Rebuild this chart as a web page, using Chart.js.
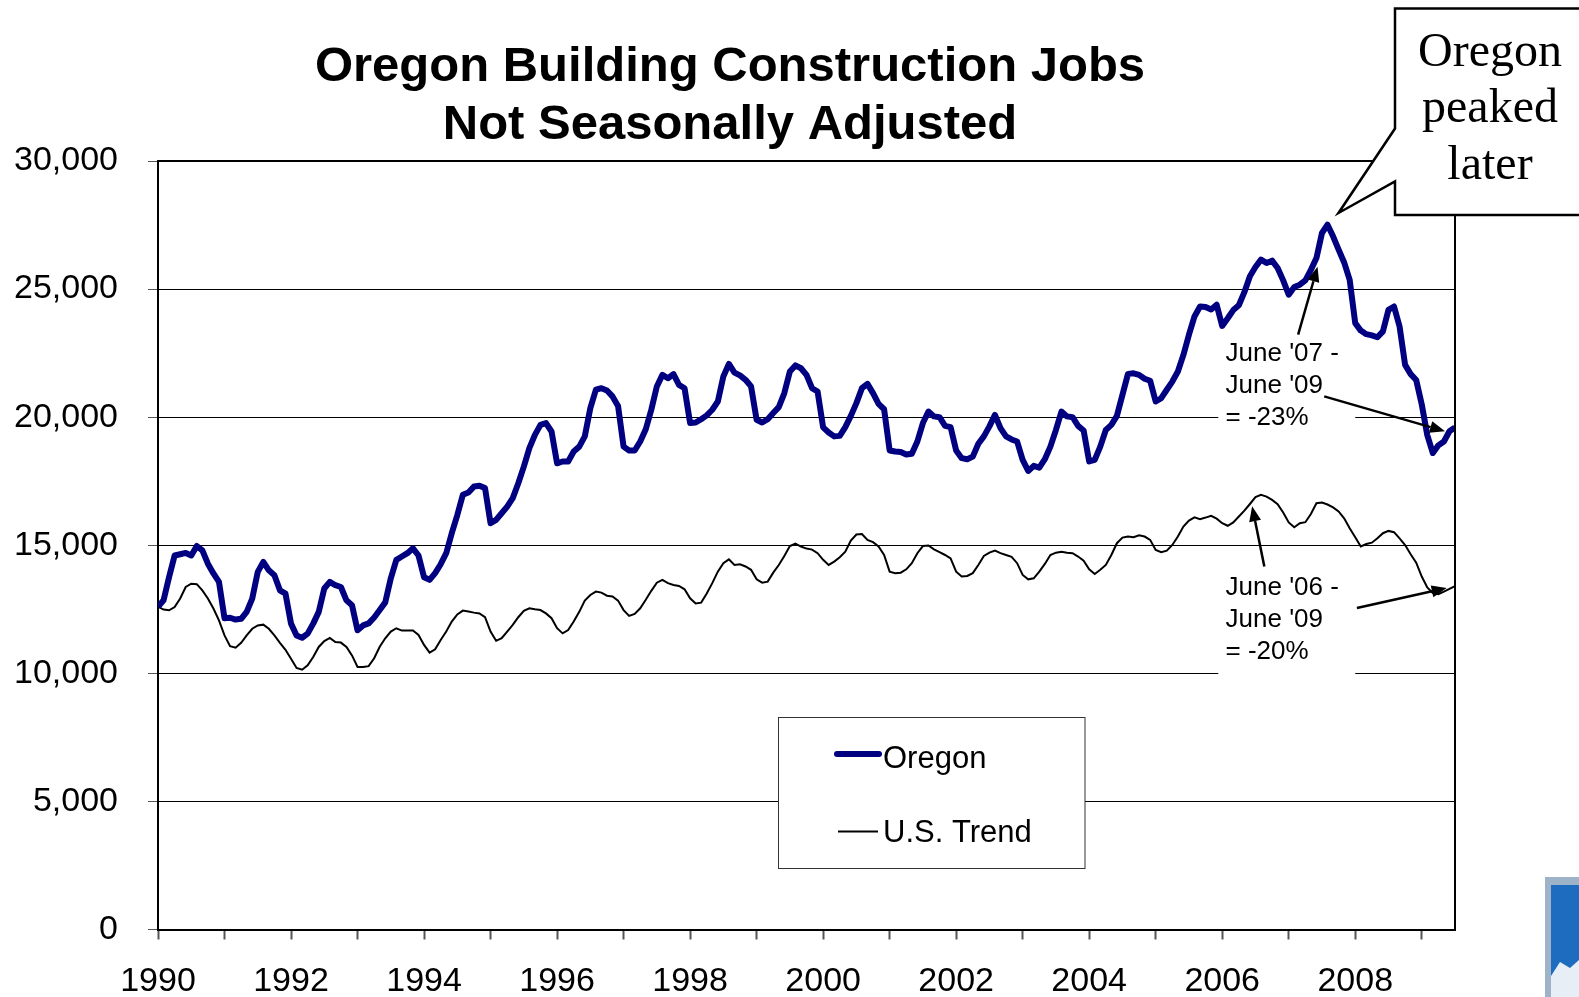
<!DOCTYPE html>
<html>
<head>
<meta charset="utf-8">
<title>Oregon Building Construction Jobs</title>
<script src="https://cdn.jsdelivr.net/npm/chart.js@4.4.1/dist/chart.umd.min.js"></script>
<style>
  html, body { margin: 0; padding: 0; background: #fff; }
  #wrap { position: relative; width: 1579px; height: 997px; }
</style>
</head>
<body>
<div id="wrap"><canvas id="grafico" width="1579" height="997"></canvas></div>
<script>
// monthly jobs, Jan 1990 .. Jul 2009 (one row per year)
var startYear = 1990;

var oregon = [
    12600, 12850, 13760, 14600, 14650, 14700, 14600, 14970, 14800, 14280, 13900, 13570,
    12150, 12170, 12100, 12130, 12400, 12920, 13960, 14350, 14020, 13830, 13240, 13110,
    11940, 11480, 11390, 11550, 11940, 12400, 13310, 13570, 13440, 13370, 12850, 12660,
    11680, 11870, 11950, 12180, 12470, 12770, 13710, 14430, 14560, 14690, 14880, 14600,
    13750, 13650, 13910, 14260, 14690, 15470, 16180, 16970, 17060, 17290, 17320, 17230,
    15860, 15990, 16250, 16510, 16840, 17420, 18070, 18790, 19310, 19700, 19770, 19440,
    18200, 18270, 18270, 18660, 18850, 19250, 20350, 21070, 21130, 21040, 20810, 20440,
    18850, 18700, 18700, 19050, 19530, 20290, 21200, 21650, 21520, 21680, 21260, 21130,
    19770, 19790, 19920, 20070, 20290, 20610, 21590, 22080, 21740, 21630, 21460, 21200,
    19900, 19790, 19920, 20160, 20390, 20940, 21780, 22020, 21910, 21650, 21130, 21000,
    19600, 19400, 19250, 19270, 19610, 20050, 20550, 21130, 21300, 20940, 20520, 20310,
    18700, 18660, 18640, 18540, 18570, 19050, 19770, 20220, 20030, 20000, 19660, 19610,
    18700, 18400, 18360, 18460, 18960, 19250, 19640, 20090, 19570, 19250, 19130, 19050,
    18330, 17900, 18100, 18030, 18360, 18850, 19500, 20220, 20030, 20000, 19660, 19480,
    18270, 18330, 18850, 19500, 19700, 20050, 20870, 21690, 21710, 21650, 21500, 21420,
    20610, 20740, 21070, 21390, 21780, 22430, 23220, 23930, 24320, 24300, 24200, 24390,
    23560, 23860, 24180, 24370, 24880, 25500, 25860, 26150, 26020, 26110, 25820, 25340,
    24780, 25080, 25170, 25340, 25750, 26210, 27190, 27510, 27060, 26540, 26040, 25360,
    23670, 23380, 23240, 23190, 23120, 23350, 24190, 24320, 23540, 22040, 21680, 21450,
    20500, 19300, 18600, 18900, 19050, 19450, 19600
];

var usTrend = [
    12600, 12490, 12460, 12590, 12920, 13370, 13500, 13480, 13240, 12920, 12530, 12070,
    11480, 11060, 11000, 11190, 11480, 11740, 11870, 11900, 11740, 11480, 11190, 10920,
    10570, 10210, 10140, 10310, 10640, 11030, 11260, 11380, 11220, 11200, 11030, 10700,
    10250, 10250, 10280, 10590, 11040, 11370, 11630, 11760, 11670, 11670, 11670, 11500,
    11110, 10810, 10940, 11300, 11630, 12020, 12300, 12450, 12410, 12370, 12340, 12190,
    11630, 11270, 11370, 11630, 11890, 12190, 12440, 12540, 12500, 12470, 12340, 12150,
    11760, 11560, 11690, 12020, 12400, 12840, 13060, 13190, 13150, 13030, 13000, 12840,
    12470, 12240, 12320, 12540, 12870, 13220, 13540, 13650, 13520, 13450, 13410, 13280,
    12930, 12730, 12760, 13120, 13520, 13970, 14300, 14450, 14230, 14260, 14170, 14040,
    13670, 13540, 13580, 13930, 14230, 14580, 14970, 15060, 14950, 14870, 14830, 14690,
    14430, 14230, 14360, 14530, 14750, 15180, 15420, 15440, 15210, 15120, 14950, 14620,
    13970, 13910, 13930, 14060, 14300, 14690, 14970, 14990, 14840, 14730, 14620, 14490,
    13970, 13780, 13800, 13910, 14230, 14580, 14710, 14790, 14690, 14620, 14550, 14300,
    13840, 13670, 13710, 13970, 14270, 14620, 14710, 14750, 14710, 14690, 14560, 14400,
    14060, 13880, 14040, 14230, 14620, 15080, 15300, 15340, 15310, 15390, 15340, 15210,
    14820, 14730, 14790, 15010, 15340, 15730, 15960, 16090, 16020, 16080, 16150, 16040,
    15860, 15760, 15890, 16120, 16350, 16610, 16880, 16970, 16900, 16770, 16600, 16280,
    15890, 15700, 15860, 15900, 16220, 16640, 16670, 16590, 16480, 16320, 16050, 15660,
    15310, 14950, 15050, 15100, 15270, 15470, 15560, 15510, 15270, 15010, 14650, 14320,
    13780, 13350, 13130, 13090, 13190, 13300, 13400
];

var yearLabels = [1990, 1992, 1994, 1996, 1998, 2000, 2002, 2004, 2006, 2008];
var seriesNames = ['Oregon', 'U.S. Trend'];
var titleLines = ['Oregon Building Construction Jobs', 'Not Seasonally Adjusted'];
var calloutLines = ['Oregon', 'peaked', 'later'];
var note07 = ["June '07 -", "June '09", "= -23%"];
var note06 = ["June '06 -", "June '09", "= -20%"];

var fonteSans = "'Liberation Sans', Arial, Helvetica, sans-serif";
var fonteSerif = "'Liberation Serif', 'Times New Roman', serif";

function pontos(valores) {
    return valores.map(function (v, i) { return {x: i, y: v}; });
}

function seta(c, x1, y1, x2, y2) {
    var ang = Math.atan2(y2 - y1, x2 - x1), comp = 15, larg = 6;
    var bx = x2 - comp * Math.cos(ang), by = y2 - comp * Math.sin(ang);
    c.beginPath();
    c.moveTo(x1, y1);
    c.lineTo(bx, by);
    c.stroke();
    c.beginPath();
    c.moveTo(x2, y2);
    c.lineTo(bx + larg * Math.sin(ang), by - larg * Math.cos(ang));
    c.lineTo(bx - larg * Math.sin(ang), by + larg * Math.cos(ang));
    c.closePath();
    c.fill();
}

// notes placed in data units (month index, jobs)
var notas = [
    {linhas: note07, caixa: [191.3, 216, 23220, 19430], texto: [192.6, 22480],
     setas: [[205.7, 23220, 209.2, 25870], [210.4, 20810, 232.2, 19450]]},
    {linhas: note06, caixa: [191.3, 216, 14240, 9820], texto: [192.6, 13340],
     setas: [[199.6, 14170, 197.4, 16520], [216.3, 12550, 232.5, 13330]]}
];

var extras = {
    id: 'extras',
    beforeDatasetsDraw: function (chart) {
        var c = chart.ctx, sx = chart.scales.x, sy = chart.scales.y;
        c.save();
        notas.forEach(function (n) {
            var x0 = sx.getPixelForValue(n.caixa[0]), x1 = sx.getPixelForValue(n.caixa[1]);
            var y0 = sy.getPixelForValue(n.caixa[2]), y1 = sy.getPixelForValue(n.caixa[3]);
            c.fillStyle = '#fff';
            c.fillRect(x0, y0, x1 - x0, y1 - y0);
            c.fillStyle = '#000';
            c.font = '26px ' + fonteSans;
            c.textAlign = 'left';
            c.textBaseline = 'middle';
            var tx = sx.getPixelForValue(n.texto[0]), ty = sy.getPixelForValue(n.texto[1]);
            n.linhas.forEach(function (t, k) { c.fillText(t, tx, ty + k * 32); });
        });
        c.restore();
    },
    afterDatasetsDraw: function (chart) {
        var c = chart.ctx, sx = chart.scales.x, sy = chart.scales.y;
        c.save();
        c.strokeStyle = '#000';
        c.fillStyle = '#000';
        c.lineWidth = 2.5;
        notas.forEach(function (n) {
            n.setas.forEach(function (s) {
                seta(c, sx.getPixelForValue(s[0]), sy.getPixelForValue(s[1]),
                        sx.getPixelForValue(s[2]), sy.getPixelForValue(s[3]));
            });
        });
        c.restore();
    },
    afterDraw: function (chart) {
        var c = chart.ctx, a = chart.chartArea;
        c.save();

        // frame top / right
        c.strokeStyle = '#000';
        c.lineWidth = 2;
        c.beginPath();
        c.moveTo(a.left, a.top);
        c.lineTo(a.right, a.top);
        c.lineTo(a.right, a.bottom);
        c.stroke();

        // title
        c.fillStyle = '#000';
        c.textAlign = 'center';
        c.textBaseline = 'alphabetic';
        c.font = 'bold 49px ' + fonteSans;
        c.fillText(titleLines[0], 730, 80.5);
        c.fillText(titleLines[1], 730, 139);

        // legend
        var ds = chart.data.datasets;
        c.fillStyle = '#fff';
        c.fillRect(778.5, 717.5, 306.5, 151);
        c.strokeStyle = '#333';
        c.lineWidth = 1;
        c.strokeRect(778.5, 717.5, 306.5, 151);
        c.lineCap = 'round';
        c.strokeStyle = ds[0].borderColor;
        c.lineWidth = ds[0].borderWidth;
        c.beginPath(); c.moveTo(837, 754); c.lineTo(879, 754); c.stroke();
        c.lineCap = 'butt';
        c.strokeStyle = ds[1].borderColor;
        c.lineWidth = ds[1].borderWidth;
        c.beginPath(); c.moveTo(838, 831.5); c.lineTo(878, 831.5); c.stroke();
        c.fillStyle = '#000';
        c.textAlign = 'left';
        c.font = '31px ' + fonteSans;
        c.fillText(ds[0].label, 883, 768);
        c.fillText(ds[1].label, 883, 842);

        // callout box
        c.fillStyle = '#fff';
        c.strokeStyle = '#000';
        c.lineWidth = 2.5;
        c.lineJoin = 'miter';
        c.beginPath();
        c.moveTo(1395, 8.5);
        c.lineTo(1590, 8.5);
        c.lineTo(1590, 215);
        c.lineTo(1395, 215);
        c.lineTo(1395, 181.5);
        c.lineTo(1338.5, 213);
        c.lineTo(1395, 128.5);
        c.closePath();
        c.fill();
        c.stroke();
        c.fillStyle = '#000';
        c.textAlign = 'center';
        c.font = '48px ' + fonteSerif;
        calloutLines.forEach(function (t, k) { c.fillText(t, 1490, 65.5 + k * 56.5); });

        // logo corner
        c.fillStyle = '#9fb3c8';
        c.fillRect(1545, 877, 40, 130);
        c.fillStyle = '#1d6cc0';
        c.fillRect(1551, 885, 40, 120);
        c.fillStyle = '#e8eef5';
        c.beginPath();
        c.moveTo(1551, 997); c.lineTo(1551, 976); c.lineTo(1560, 962);
        c.lineTo(1570, 968); c.lineTo(1579, 960); c.lineTo(1579, 997);
        c.closePath();
        c.fill();

        c.restore();
    }
};

var ctx = document.getElementById('grafico').getContext('2d');

var grafico = new Chart(ctx, {
    type: 'line',
    data: {
        datasets: [{
            label: seriesNames[0],
            data: pontos(oregon),
            borderColor: '#000080',
            borderWidth: 6,
            borderJoinStyle: 'round',
            pointRadius: 0,
            tension: 0
        }, {
            label: seriesNames[1],
            data: pontos(usTrend),
            borderColor: '#000000',
            borderWidth: 2,
            pointRadius: 0,
            tension: 0
        }]
    },
    options: {
        responsive: false,
        animation: false,
        devicePixelRatio: 1,
        layout: { padding: { top: 161, right: 124, bottom: 0, left: 0 } },
        plugins: {
            legend: { display: false },
            title: { display: false },
            tooltip: { enabled: false }
        },
        scales: {
            x: {
                type: 'linear',
                min: 0,
                max: oregon.length - 1,
                afterFit: function (s) { s.height = 67.5; },
                border: { color: '#000', width: 2 },
                grid: { drawOnChartArea: false, drawTicks: true, tickLength: 10, tickColor: '#555', tickWidth: 2 },
                ticks: {
                    stepSize: 12,
                    includeBounds: false,
                    autoSkip: false,
                    maxRotation: 0,
                    padding: 22,
                    color: '#000',
                    font: { family: fonteSans, size: 34 },
                    callback: function (v) {
                        var ano = startYear + v / 12;
                        return yearLabels.indexOf(ano) >= 0 ? String(ano) : '';
                    }
                }
            },
            y: {
                min: 0,
                max: 30000,
                afterFit: function (s) { s.width = 158; },
                border: { color: '#000', width: 2 },
                grid: { color: '#000', lineWidth: 1, tickLength: 10, tickColor: '#555' },
                ticks: {
                    stepSize: 5000,
                    padding: 30,
                    color: '#000',
                    font: { family: fonteSans, size: 34 },
                    callback: function (v) { return v.toLocaleString('en-US'); }
                }
            }
        }
    },
    plugins: [extras]
});
</script>
</body>
</html>
